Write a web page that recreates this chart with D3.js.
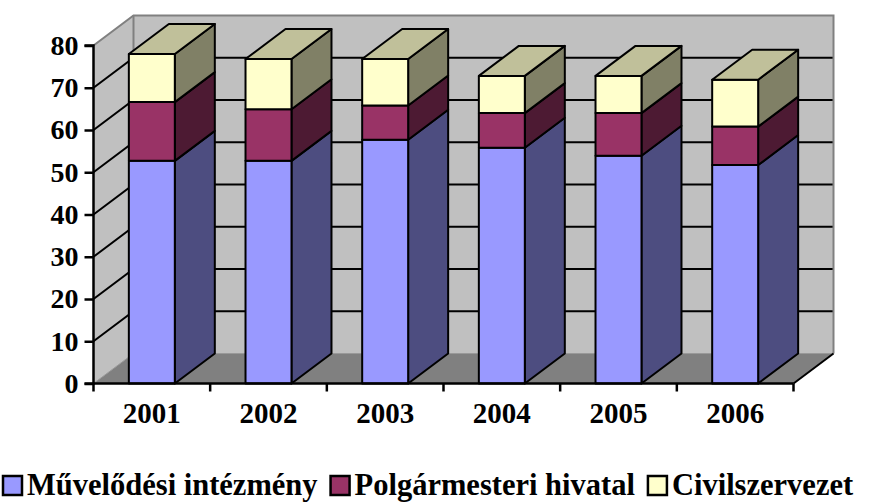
<!DOCTYPE html>
<html><head><meta charset="utf-8">
<script src="https://cdn.jsdelivr.net/npm/d3@7"></script>
<style>body{margin:0;background:#fff}svg{display:block}</style>
</head><body>
<svg id="c" width="875" height="502"></svg>
<script>
const years = ["2001","2002","2003","2004","2005","2006"];
const seriesNames = ["Művelődési intézmény","Polgármesteri hivatal","Civilszervezet"];
const muvelodesi = [52.7, 52.7, 57.7, 55.8, 53.9, 51.7];
const polgarmesteri = [13.9, 12.2, 8.1, 8.2, 10.1, 9.1];
const civil = [11.4, 11.9, 11.0, 8.8, 8.8, 11.1];
const yTicks = [0,10,20,30,40,50,60,70,80];

const frontCol = ["#9999FF","#993366","#FFFFCC"];
const sideCol = ["#4D4D80","#4D1A33","#808066"];
const topCol = ["#C0C09A"];
const FONT = '"Liberation Serif"';

const svg = d3.select("#c");
const x0 = 93.5, x1 = 793.5, yb = 383.5, yt = 45.5;
const dx = 40, dy = -30;
const x = d3.scaleBand().domain(years).range([x0, x1]).paddingInner(0.606).paddingOuter(0.303);
const y = d3.scaleLinear().domain([0, 80]).range([yb, yt]);

const data = years.map((yr, i) => ({yr, vals: [muvelodesi[i], polgarmesteri[i], civil[i]]}));
const stack = d3.stack().keys([0,1,2]).value((d, k) => d.vals[k]);
const stacked = stack(data);

const poly = pts => "M" + pts.map(p => p.join(",")).join("L") + "Z";
const lbl = (sel, size) => sel.style("font-family", FONT).style("font-weight", "bold")
  .style("font-size", size + "px").style("fill", "#000");

const g = svg.append("g");
g.append("path").attr("d", poly([[x0, y(0)],[x0, y(80)],[x0+dx, y(80)+dy],[x0+dx, y(0)+dy]]))
  .attr("fill", "#C0C0C0");
g.append("path").attr("d", poly([[x0+dx, y(80)+dy],[x1+dx, y(80)+dy],[x1+dx, y(0)+dy],[x0+dx, y(0)+dy]]))
  .attr("fill", "#C0C0C0");
yTicks.filter(t => t > 0 && t < 80).forEach(t => {
  g.append("path").attr("d", `M${x0},${y(t)}L${x0+dx},${y(t)+dy}L${x1+dx},${y(t)+dy}`)
    .attr("fill","none").attr("stroke","#000").attr("stroke-width",2);
});
g.append("path").attr("d", `M${x0},${y(80)}L${x0+dx},${y(80)+dy}L${x1+dx},${y(80)+dy}L${x1+dx},${y(0)+dy}`)
  .attr("fill","none").attr("stroke","#808080").attr("stroke-width",2);
g.append("path").attr("d", `M${x0+dx},${y(80)+dy}L${x0+dx},${y(0)+dy}`)
  .attr("fill","none").attr("stroke","#808080").attr("stroke-width",2);
g.append("path").attr("d", poly([[x0, y(0)],[x0+dx, y(0)+dy],[x1+dx, y(0)+dy],[x1, y(0)]]))
  .attr("fill", "#808080").attr("stroke","#999").attr("stroke-width",1);
g.append("path").attr("d", `M${x1},${y(0)}L${x1+dx},${y(0)+dy}`)
  .attr("stroke","#000").attr("stroke-width",2);

const bars = svg.append("g").attr("stroke","#000").attr("stroke-width",2).attr("stroke-linejoin","round");
data.forEach((d, i) => {
  const xl = x(d.yr), xr = xl + x.bandwidth();
  stacked.forEach((s, k) => {
    const lo = y(s[i][0]), hi = y(s[i][1]);
    bars.append("path").attr("d", poly([[xr, lo],[xr, hi],[xr+dx, hi+dy],[xr+dx, lo+dy]])).attr("fill", sideCol[k]);
    bars.append("rect").attr("x", xl).attr("y", hi).attr("width", xr - xl).attr("height", lo - hi).attr("fill", frontCol[k]);
    if (k === stacked.length - 1) {
      bars.append("path").attr("d", poly([[xl, hi],[xl+dx, hi+dy],[xr+dx, hi+dy],[xr, hi]])).attr("fill", topCol[0]);
    }
  });
});

const ya = svg.append("g").attr("transform", `translate(${x0},0)`)
  .call(d3.axisLeft(y).tickValues(yTicks).tickSize(9).tickPadding(6).tickFormat(d3.format("d")));
ya.select(".domain").attr("stroke","#000").attr("stroke-width",2.5).attr("d", `M-9,${y(80)}H0V${y(0)}H-9`);
ya.selectAll(".tick line").attr("stroke","#000").attr("stroke-width",2.5);
lbl(ya.selectAll(".tick text"), 28);

const xa = svg.append("g").attr("transform", `translate(0,${yb})`)
  .call(d3.axisBottom(x).tickSize(0).tickPadding(19));
xa.select(".domain").remove();
xa.append("path").attr("d", `M${x0},0H${x1}`).attr("stroke","#000").attr("stroke-width",2.5);
const bounds = d3.range(years.length + 1).map(i => x0 + i * x.step());
xa.selectAll(".sep").data(bounds).join("line").attr("class","sep")
  .attr("x1", d => d).attr("x2", d => d).attr("y1", 0).attr("y2", 8).attr("stroke","#000").attr("stroke-width",2.5);
lbl(xa.selectAll(".tick text"), 29);

const lg = svg.append("g");
let lx = 3;
seriesNames.forEach((name, k) => {
  lg.append("rect").attr("x", lx).attr("y", 476).attr("width", 19).attr("height", 19)
    .attr("fill", frontCol[k]).attr("stroke","#000").attr("stroke-width",2.5);
  const t = lbl(lg.append("text"), 30.5).attr("x", lx + 24).attr("y", 495).text(name);
  lx = lx + 24 + t.node().getComputedTextLength() + 13;
});
</script>
</body></html>
